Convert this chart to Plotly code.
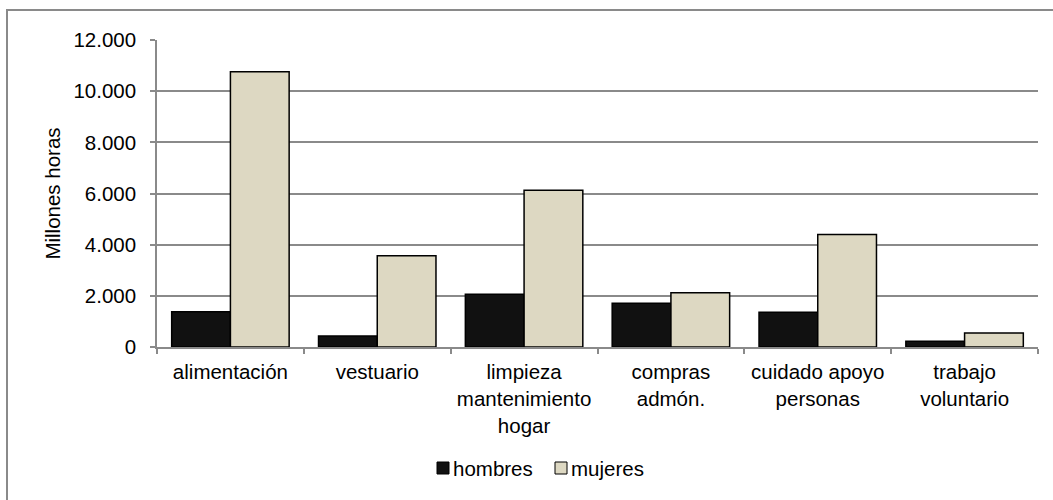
import plotly.graph_objects as go

# Millones de horas de trabajo no remunerado por actividad y sexo
categorias = [
    "alimentación",
    "vestuario",
    "limpieza<br>mantenimiento<br>hogar",
    "compras<br>admón.",
    "cuidado apoyo<br>personas",
    "trabajo<br>voluntario",
]
hombres = [1380, 430, 2060, 1710, 1360, 220]
mujeres = [10760, 3570, 6130, 2120, 4400, 550]

tick_vals = [0, 2000, 4000, 6000, 8000, 10000, 12000]
tick_text = ["0", "2.000", "4.000", "6.000", "8.000", "10.000", "12.000"]

COLOR_H = "#111111"
COLOR_M = "#DDD8C2"
GRID = "#8a8a8a"
FONT = "Liberation Sans, Arial, sans-serif"
FS = 20.5

fig = go.Figure()
fig.add_trace(go.Bar(
    name="hombres", x=categorias, y=hombres,
    marker=dict(color=COLOR_H, line=dict(color="#000000", width=1.5)),
))
fig.add_trace(go.Bar(
    name="mujeres", x=categorias, y=mujeres,
    marker=dict(color=COLOR_M, line=dict(color="#000000", width=1.5)),
))

fig.update_layout(
    width=1053, height=500,
    margin=dict(l=157, r=15, t=40, b=153),
    paper_bgcolor="white", plot_bgcolor="white",
    barmode="group", bargap=0.2, bargroupgap=0,
    showlegend=False,
    font=dict(family=FONT, size=FS, color="#000000"),
    xaxis=dict(
        showgrid=False, showline=True, linecolor=GRID, linewidth=1.5,
        ticks="outside", ticklen=5, tickcolor=GRID, tickwidth=1.5,
        tickson="boundaries", tickfont=dict(size=FS),
        ticklabelstandoff=6,
    ),
    yaxis=dict(
        range=[0, 12000], tickvals=tick_vals, ticktext=tick_text,
        showgrid=True, gridcolor=GRID, gridwidth=1.5,
        showline=True, linecolor=GRID, linewidth=1.5,
        ticks="outside", ticklen=5, tickcolor=GRID, tickwidth=1.5,
        ticklabelstandoff=10, zeroline=False,
        tickfont=dict(size=FS),
        title=dict(text="Millones horas", font=dict(size=FS), standoff=7),
    ),
)

# Marco exterior del gráfico
fig.add_shape(
    type="rect", xref="paper", yref="paper",
    x0=-150 / 881, x1=1.1, y0=-0.6, y1=1 + 30 / 307,
    line=dict(color=GRID, width=2), fillcolor="rgba(0,0,0,0)", layer="below",
)

# Leyenda personalizada
legend_items = [("hombres", COLOR_H, 437), ("mujeres", COLOR_M, 555)]
for nombre, color, px in legend_items:
    x0 = (px - 157) / 881
    x1 = (px + 12 - 157) / 881
    y_mid = (347 - 468) / 307
    fig.add_shape(
        type="rect", xref="paper", yref="paper",
        x0=x0, x1=x1, y0=y_mid - 6 / 307, y1=y_mid + 6 / 307,
        fillcolor=color, line=dict(color="#000000", width=1),
    )
    fig.add_annotation(
        xref="paper", yref="paper", x=x1 + 2 / 881, y=y_mid,
        text=nombre, showarrow=False, xanchor="left", yanchor="middle",
        font=dict(size=FS),
    )

fig.write_html("out.html")
